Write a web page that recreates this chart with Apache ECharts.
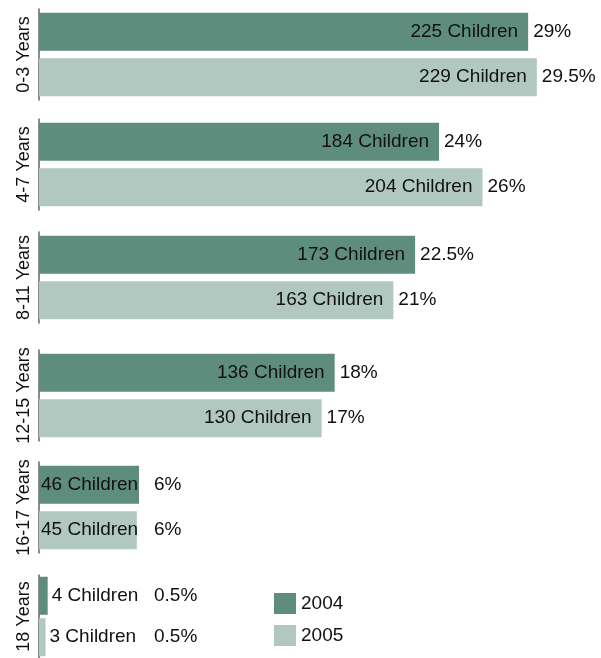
<!DOCTYPE html>
<html>
<head>
<meta charset="utf-8">
<script src="https://cdn.jsdelivr.net/npm/echarts@6/dist/echarts.min.js"></script>
<style>
html,body{margin:0;padding:0;background:#fff;}
#chart{width:601px;height:658px;}
</style>
</head>
<body>
<div id="chart"></div>
<script>
// ---- data ----
const categories = ['0-3 Years', '4-7 Years', '8-11 Years', '12-15 Years', '16-17 Years', '18 Years'];
const years = ['2004', '2005'];
const children2004 = [225, 184, 173, 136, 46, 4];
const children2005 = [229, 204, 163, 130, 45, 3];
const percent2004 = ['29%', '24%', '22.5%', '18%', '6%', '0.5%'];
const percent2005 = ['29.5%', '26%', '21%', '17%', '6%', '0.5%'];

// ---- style ----
const FONT = "'Liberation Sans', Arial, sans-serif";
const FS = 19;
const colors = ['#5e8d7d', '#b1c8c0'];
const gridTops = [9, 119, 232, 350, 462, 575];
const gridHeight = 91;
const xMax = 250;

const grids = [], xAxes = [], yAxes = [], series = [];

function childLabel(v) {
  const base = { show: true, color: '#111', fontFamily: FONT, fontSize: FS,
                 formatter: v + ' Children' };
  if (v >= 100) return Object.assign(base, { position: 'insideRight', distance: 10 });
  if (v >= 20) return Object.assign(base, { position: 'insideLeft', distance: 2 });
  return Object.assign(base, { position: 'right', distance: 4 });
}
function pctLabel(v, txt) {
  const base = { show: true, color: '#111', fontFamily: FONT, fontSize: FS, formatter: txt };
  if (v >= 100) return Object.assign(base, { position: 'right', distance: 5 });
  return Object.assign(base, { position: 'insideLeft', distance: 115 });
}

categories.forEach((cat, i) => {
  grids.push({ left: 39, right: 18.5, top: gridTops[i], height: gridHeight });
  xAxes.push({ type: 'value', gridIndex: i, min: 0, max: xMax, show: false });
  yAxes.push({
    type: 'category', gridIndex: i, data: years, inverse: true,
    axisLine: { show: true, lineStyle: { color: '#666', width: 1.5 } },
    axisTick: { show: false }, axisLabel: { show: false }, splitLine: { show: false },
    name: cat, nameLocation: 'middle', nameRotate: 90, nameGap: 6,
    nameTextStyle: { fontFamily: FONT, fontSize: 18, color: '#111' }
  });
  const v4 = children2004[i], v5 = children2005[i];
  series.push({
    name: '2004', type: 'bar', xAxisIndex: i, yAxisIndex: i,
    barWidth: 38, barGap: '-100%',
    itemStyle: { color: colors[0] },
    data: [{ value: v4, label: childLabel(v4) }, '-'],
    emphasis: { disabled: true }, animation: false
  });
  series.push({
    name: '2005', type: 'bar', xAxisIndex: i, yAxisIndex: i,
    barWidth: 38, barGap: '-100%',
    itemStyle: { color: colors[1] },
    data: ['-', { value: v5, label: childLabel(v5) }],
    emphasis: { disabled: true }, animation: false
  });
  series.push({
    name: 'pct', type: 'bar', xAxisIndex: i, yAxisIndex: i,
    barWidth: 38, barGap: '-100%',
    itemStyle: { color: 'rgba(0,0,0,0)' },
    data: [
      { value: v4, label: pctLabel(v4, percent2004[i]) },
      { value: v5, label: pctLabel(v5, percent2005[i]) }
    ],
    emphasis: { disabled: true }, silent: true, animation: false, z: 3
  });
});

const chart = echarts.init(document.getElementById('chart'));
chart.setOption({
  backgroundColor: '#fff',
  animation: false,
  legend: {
    data: years, orient: 'vertical', left: 269, top: 588,
    icon: 'rect', itemWidth: 22, itemHeight: 21, itemGap: 11,
    textStyle: { fontFamily: FONT, fontSize: FS, color: '#111' }
  },
  grid: grids, xAxis: xAxes, yAxis: yAxes, series: series
});
</script>
</body>
</html>
